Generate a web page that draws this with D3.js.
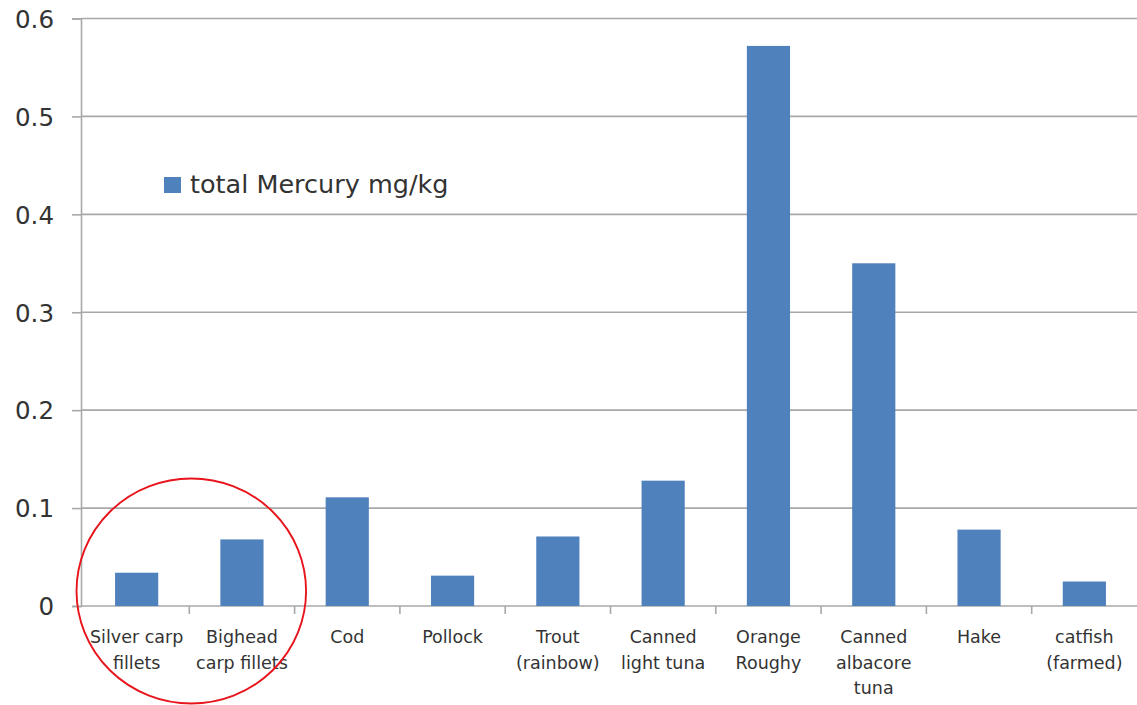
<!DOCTYPE html>
<html>
<head>
<meta charset="utf-8">
<script src="https://cdn.jsdelivr.net/npm/d3@7"></script>
<style>
  html, body { margin: 0; padding: 0; background: #fff; }
  svg { display: block; }
  text { font-family: "DejaVu Sans", sans-serif; fill: #333333; }
</style>
</head>
<body>
<svg id="chart" width="1137" height="705"></svg>
<script>
const categories = [
  ["Silver carp", "fillets"],
  ["Bighead", "carp fillets"],
  ["Cod"],
  ["Pollock"],
  ["Trout", "(rainbow)"],
  ["Canned", "light tuna"],
  ["Orange", "Roughy"],
  ["Canned", "albacore", "tuna"],
  ["Hake"],
  ["catfish", "(farmed)"]
];
const mercury = [0.034, 0.068, 0.111, 0.031, 0.071, 0.128, 0.572, 0.350, 0.078, 0.025];
const yTicks = [0, 0.1, 0.2, 0.3, 0.4, 0.5, 0.6];
const seriesName = "total Mercury mg/kg";

const W = 1137, H = 705;
const margin = { left: 81, right: 0, top: 18.5, bottom: 99 };
const bandStart = 84;
const svg = d3.select("#chart");

const keys = categories.map((c, i) => i);
const x = d3.scaleBand()
  .domain(keys)
  .range([bandStart, W - margin.right])
  .paddingInner(0.59)
  .paddingOuter(0.295);
const xStep = x.step();
const xEdge = i => bandStart + i * xStep;

const y = d3.scaleLinear().domain([0, 0.6]).range([H - margin.bottom, margin.top]);

// gridlines
svg.append("g").selectAll("line")
  .data(yTicks)
  .join("line")
  .attr("x1", margin.left).attr("x2", W - margin.right)
  .attr("y1", d => y(d)).attr("y2", d => y(d))
  .attr("stroke", "#a8a8a8").attr("stroke-width", 1.6);

// y axis
const yAxis = d3.axisLeft(y).tickValues(yTicks).tickSize(9).tickPadding(18)
  .tickFormat(d => d === 0 ? "0" : d3.format(".1f")(d));
const gy = svg.append("g").attr("transform", `translate(${margin.left},0)`).call(yAxis);
gy.select(".domain").attr("stroke", "#a8a8a8").attr("stroke-width", 1.6);
gy.selectAll(".tick line").attr("stroke", "#a8a8a8").attr("stroke-width", 1.6);
gy.selectAll(".tick text")
  .style("font-family", "'DejaVu Sans', sans-serif")
  .style("font-size", "24.5px").attr("fill", "#333333").attr("dy", "0.36em");

// x axis ticks at category boundaries
const boundaries = d3.range(1, categories.length);
svg.append("g").selectAll("line")
  .data(boundaries)
  .join("line")
  .attr("x1", d => xEdge(d)).attr("x2", d => xEdge(d))
  .attr("y1", y(0)).attr("y2", y(0) + 8)
  .attr("stroke", "#a8a8a8").attr("stroke-width", 1.6);

// bars
svg.append("g").selectAll("rect")
  .data(mercury)
  .join("rect")
  .attr("x", (d, i) => x(i))
  .attr("width", x.bandwidth())
  .attr("y", d => y(d))
  .attr("height", d => y(0) - y(d))
  .attr("fill", "#4f81bd");

// category labels
const lab = svg.append("g").selectAll("text")
  .data(categories)
  .join("text")
  .attr("text-anchor", "middle")
  .style("font-size", "17.5px")
  .attr("x", (d, i) => x(i) + x.bandwidth() / 2)
  .attr("y", y(0) + 37);
lab.selectAll("tspan")
  .data(d => d)
  .join("tspan")
  .attr("x", function () { return d3.select(this.parentNode).attr("x"); })
  .attr("dy", (d, j) => j === 0 ? 0 : 25.5)
  .text(d => d);

// legend
const leg = svg.append("g");
leg.append("rect").attr("x", 164).attr("y", 177).attr("width", 17).attr("height", 16).attr("fill", "#4f81bd");
leg.append("text").attr("x", 190).attr("y", 193).style("font-size", "25.5px").text(seriesName);

// red annotation circle around the first two categories
const cx = xEdge(1) + 2;
svg.append("ellipse")
  .attr("cx", cx).attr("cy", 591)
  .attr("rx", xStep * 1.09).attr("ry", 112.5)
  .attr("fill", "none").attr("stroke", "#e8141c").attr("stroke-width", 1.9);
</script>
</body>
</html>
